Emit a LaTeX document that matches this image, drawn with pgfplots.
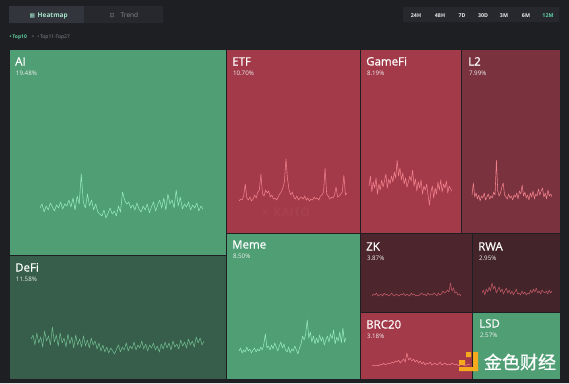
\documentclass[border=0pt]{standalone}
\usepackage{pgfplots}
\pgfplotsset{compat=1.18}
\usepackage{pgfplotstable}
\usepackage{fontspec}
\setmainfont{Open Sans}
\newfontfamily\titlefont{Open Sans}[FakeBold=0.7]
\newfontfamily\cjk{Noto Sans CJK SC}[FakeBold=1]
\newfontfamily\sym{DejaVu Sans}

\definecolor{bg}{RGB}{30,31,35}
\definecolor{btnA}{RGB}{50,53,60}
\definecolor{btnB}{RGB}{38,40,45}
\definecolor{gT}{RGB}{79,158,116}
\definecolor{gD}{RGB}{54,94,74}
\definecolor{rT}{RGB}{163,58,74}
\definecolor{rL}{RGB}{122,50,62}
\definecolor{rZ}{RGB}{77,38,45}
\definecolor{rW}{RGB}{66,36,42}
\definecolor{spG}{RGB}{150,232,188}
\definecolor{spGD}{RGB}{112,184,142}
\definecolor{spR}{RGB}{240,128,138}
\definecolor{spRD}{RGB}{190,88,100}
\definecolor{teal}{RGB}{96,206,160}
\definecolor{greyT}{RGB}{138,140,146}
\definecolor{logo}{RGB}{245,170,30}

% sparkline values: height (px) above each sparkline's baseline
\pgfplotstableread[row sep=\\]{v\\14\\18\\10\\16\\12\\19\\15\\11\\17\\14\\20\\13\\18\\16\\22\\15\\24\\12\\26\\18\\48\\20\\14\\28\\16\\22\\12\\18\\10\\8\\6\\12\\4\\9\\14\\8\\11\\6\\16\\10\\30\\22\\18\\20\\14\\17\\12\\19\\13\\10\\16\\12\\18\\9\\15\\20\\11\\17\\22\\14\\24\\12\\28\\18\\22\\14\\32\\16\\25\\13\\18\\15\\20\\12\\17\\14\\19\\11\\16\\13\\}\aidata
\pgfplotstableread[row sep=\\]{v\\18\\22\\12\\24\\14\\20\\10\\26\\16\\21\\12\\30\\15\\22\\11\\24\\14\\19\\10\\23\\13\\20\\9\\22\\12\\18\\10\\21\\11\\17\\9\\19\\12\\16\\8\\14\\6\\12\\5\\10\\4\\9\\6\\3\\8\\12\\5\\10\\7\\14\\6\\11\\8\\15\\7\\12\\9\\16\\8\\13\\6\\12\\9\\14\\7\\11\\5\\13\\8\\15\\9\\14\\7\\16\\10\\13\\8\\17\\11\\15\\9\\18\\12\\16\\10\\20\\14\\19\\12\\16\\}\defidata
\pgfplotstableread[row sep=\\]{v\\3\\5\\4\\8\\20\\6\\4\\7\\3\\5\\9\\6\\12\\14\\30\\10\\8\\14\\11\\13\\7\\9\\5\\6\\4\\7\\10\\12\\16\\22\\45\\25\\14\\9\\12\\7\\5\\8\\4\\6\\7\\5\\8\\4\\6\\3\\5\\4\\7\\5\\6\\4\\8\\9\\12\\36\\10\\8\\5\\7\\6\\9\\17\\7\\8\\10\\12\\29\\9\\11\\}\etfdata
\pgfplotstableread[row sep=\\]{v\\20\\30\\14\\24\\18\\28\\12\\22\\16\\26\\19\\25\\32\\18\\27\\22\\30\\24\\34\\28\\46\\30\\38\\26\\33\\22\\28\\19\\24\\30\\25\\36\\20\\27\\15\\24\\18\\26\\12\\20\\16\\22\\10\\1\\14\\20\\8\\18\\12\\24\\16\\26\\14\\22\\18\\25\\13\\20\\17\\15\\}\gamedata
\pgfplotstableread[row sep=\\]{v\\10\\22\\8\\12\\6\\10\\4\\9\\7\\12\\5\\8\\11\\6\\9\\7\\13\\10\\45\\14\\9\\12\\18\\22\\10\\8\\6\\11\\7\\9\\5\\10\\8\\12\\6\\14\\11\\20\\9\\13\\7\\10\\5\\12\\8\\14\\6\\11\\9\\16\\10\\14\\17\\8\\12\\6\\15\\9\\11\\8\\}\ltwodata
\pgfplotstableread[row sep=\\]{v\\5\\8\\3\\6\\4\\9\\5\\7\\3\\6\\8\\4\\7\\5\\9\\6\\12\\22\\8\\10\\6\\11\\7\\13\\9\\5\\10\\14\\8\\12\\6\\4\\9\\3\\7\\5\\10\\6\\2\\8\\12\\20\\16\\22\\36\\18\\24\\14\\20\\12\\18\\13\\21\\15\\19\\11\\16\\20\\14\\22\\17\\26\\12\\19\\15\\24\\13\\28\\14\\18\\}\memedata
\pgfplotstableread[row sep=\\]{v\\3\\5\\4\\6\\3\\4\\5\\3\\6\\4\\5\\3\\4\\6\\4\\3\\5\\4\\3\\5\\4\\6\\3\\5\\4\\3\\6\\4\\5\\3\\4\\3\\5\\6\\4\\5\\3\\6\\4\\5\\4\\6\\5\\3\\6\\4\\5\\8\\6\\7\\9\\7\\16\\8\\11\\6\\7\\4\\5\\3\\}\zkdata
\pgfplotstableread[row sep=\\]{v\\6\\9\\4\\10\\7\\12\\8\\16\\10\\13\\6\\9\\12\\7\\10\\5\\8\\11\\6\\9\\5\\8\\4\\7\\10\\5\\6\\4\\8\\5\\7\\4\\6\\5\\9\\6\\10\\7\\11\\6\\8\\5\\9\\7\\6\\8\\5\\9\\6\\8\\}\rwadata
\pgfplotstableread[row sep=\\]{v\\2\\3\\2\\3\\2\\4\\3\\5\\3\\4\\5\\4\\6\\5\\7\\6\\8\\5\\7\\9\\6\\15\\8\\10\\7\\9\\6\\8\\5\\7\\4\\6\\3\\5\\4\\6\\3\\4\\5\\3\\4\\6\\3\\4\\5\\3\\4\\3\\5\\4\\3\\4\\2\\3\\4\\3\\2\\3\\4\\3\\}\brcdata

\pgfplotstablegetrowsof{\aidata}\edef\nai{\pgfplotsretval}
\pgfplotstablegetrowsof{\defidata}\edef\ndefi{\pgfplotsretval}
\pgfplotstablegetrowsof{\etfdata}\edef\netf{\pgfplotsretval}
\pgfplotstablegetrowsof{\gamedata}\edef\ngame{\pgfplotsretval}
\pgfplotstablegetrowsof{\ltwodata}\edef\nltwo{\pgfplotsretval}
\pgfplotstablegetrowsof{\memedata}\edef\nmeme{\pgfplotsretval}
\pgfplotstablegetrowsof{\zkdata}\edef\nzk{\pgfplotsretval}
\pgfplotstablegetrowsof{\rwadata}\edef\nrwa{\pgfplotsretval}
\pgfplotstablegetrowsof{\brcdata}\edef\nbrc{\pgfplotsretval}

% #1 table, #2 x0, #3 x1, #4 baseline, #5 colour, #6 rows
\newcommand{\spark}[6]{\addplot[#5, line width=0.55pt, mark=none, line join=round] table[x index=0, y index=0, x expr={#2+\coordindex*(#3-#2)/(#6-1)}, y expr={#4-\thisrow{v}}] {#1};}
% rectangle #1..#4, colour #5
\newcommand{\tile}[5]{\addplot[fill=#5, draw=bg, line width=0.8pt] coordinates {(#1,#2) (#3,#2) (#3,#4) (#1,#4) (#1,#2)};}
\newcommand{\rect}[5]{\addplot[fill=#5, draw=none] coordinates {(#1,#2) (#3,#2) (#3,#4) (#1,#4) (#1,#2)};}
\newcommand{\lab}[4]{%
  \node[anchor=base west, inner sep=0pt, text=white, font=\titlefont\fontsize{11.5}{12}\selectfont] at (axis cs:#1,#2) {#4};
  \node[anchor=base west, inner sep=0pt, text=white!88!gray, font=\fontsize{6.2}{7}\selectfont] at (axis cs:#1+0.8,#2+10) {#3};}

\begin{document}
\begin{tikzpicture}
\begin{axis}[
  scale only axis, width=569pt, height=383pt,
  xmin=0, xmax=569, ymin=0, ymax=383, y dir=reverse,
  hide axis, clip=false]
\rect{0}{0}{569}{383}{bg}
% header
\rect{9}{6}{84}{23}{btnA}
\rect{84}{6}{163}{23}{btnB}
\rect{403}{7}{559}{22}{btnB}
\node[anchor=base west, inner sep=0pt, text=teal!60!white, font=\sym\fontsize{5.8}{6}\selectfont] at (axis cs:29.5,17.4) {▦};
\node[anchor=base west, inner sep=0pt, text=teal!55!white, font=\bfseries\fontsize{6.5}{7}\selectfont] at (axis cs:37.5,17.5) {Heatmap};
\node[anchor=base west, inner sep=0pt, text=greyT, font=\sym\fontsize{5.8}{6}\selectfont] at (axis cs:109.5,17.4) {⊡};
\node[anchor=base west, inner sep=0pt, text=greyT, font=\fontsize{6.5}{7}\selectfont] at (axis cs:120.5,17.5) {Trend};
\foreach \xx/\tt in {416/24H,440/48H,462/7D,483/30D,504/3M,526/6M}{
  \edef\tmp{\noexpand\node[anchor=base, inner sep=0pt, text=white!85!gray, font=\noexpand\bfseries\noexpand\fontsize{5.3}{6}\noexpand\selectfont] at (axis cs:\xx,17.1) {\tt};}\tmp}
\node[anchor=base, inner sep=0pt, text=teal, font=\bfseries\fontsize{5.3}{6}\selectfont] at (axis cs:548,17.1) {12M};
\node[anchor=base west, inner sep=0pt, text=teal, font=\bfseries\fontsize{5}{6}\selectfont] at (axis cs:9.5,38.2) {•\,Top10};
\node[anchor=base west, inner sep=0pt, text=greyT, font=\fontsize{5}{6}\selectfont] at (axis cs:31.5,38.2) {>\;\;•\,Top11-Top27};
% tiles
\tile{9}{49}{226}{255}{gT}
\tile{9}{255}{226}{379}{gD}
\tile{226}{49}{360}{233}{rT}
\tile{360}{49}{461}{233}{rT}
\tile{461}{49}{560}{233}{rL}
\tile{226}{233}{360}{379}{gT}
\tile{360}{233}{472}{312}{rZ}
\tile{472}{233}{560}{312}{rW}
\tile{360}{312}{472}{379}{rT}
\tile{472}{312}{560}{379}{gT}
% faint watermark in ETF
\node[anchor=center, inner sep=0pt, text=white, text opacity=0.035, font=\bfseries\fontsize{12}{12}\selectfont] at (axis cs:285,212) {{\sym ✕} KAITO};
% sparklines
\spark{\aidata}{40}{203}{222}{spG}{\nai}
\spark{\defidata}{31}{204}{357}{spGD}{\ndefi}
\spark{\etfdata}{239}{347}{204}{spR}{\netf}
\spark{\gamedata}{369}{452}{206}{spR}{\ngame}
\spark{\ltwodata}{472}{552}{205}{spR}{\nltwo}
\spark{\memedata}{239}{346}{356}{spG}{\nmeme}
\spark{\zkdata}{372}{461}{299}{spRD}{\nzk}
\spark{\rwadata}{482}{552}{299}{spRD}{\nrwa}
\spark{\brcdata}{372}{470}{368}{spR}{\nbrc}
% labels
\lab{15}{65.5}{19.48\%}{AI}
\lab{15}{271.5}{11.58\%}{DeFi}
\lab{232}{65.5}{10.70\%}{ETF}
\lab{366}{65.5}{8.19\%}{GameFi}
\lab{468}{65.5}{7.99\%}{L2}
\lab{232}{248.5}{8.50\%}{Meme}
\lab{366}{250.5}{3.87\%}{ZK}
\lab{478}{250.5}{2.95\%}{RWA}
\lab{366}{328.5}{3.18\%}{BRC20}
\lab{479}{327.5}{2.57\%}{LSD}
% corner watermark
\rect{459}{360}{465}{365}{logo}
\rect{466}{352}{471}{357}{logo}
\rect{473}{352}{478}{371}{logo}
\rect{459}{367}{478}{371}{logo}
\node[anchor=center, inner sep=0pt, text=white, font=\cjk\fontsize{18}{18}\selectfont] at (axis cs:520,362) {金色财经};
\end{axis}
\end{tikzpicture}
\end{document}
